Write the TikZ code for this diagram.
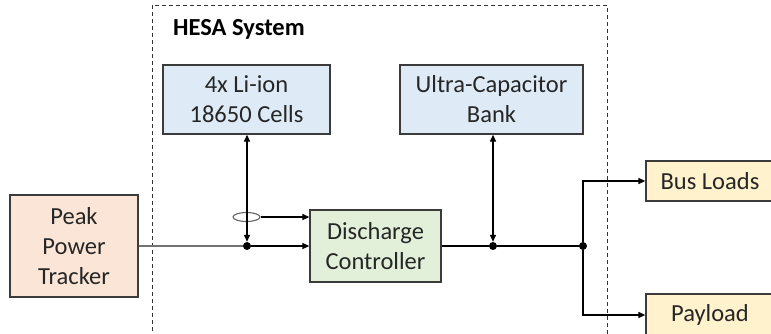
\documentclass[tikz,border=0pt]{standalone}
\usepackage{fontspec}
\setmainfont{Carlito}
\usetikzlibrary{arrows.meta,shapes.geometric}
\definecolor{bluef}{HTML}{DEEBF7}
\definecolor{greenf}{HTML}{E2F0D9}
\definecolor{peachf}{HTML}{FBE5D6}
\definecolor{yellowf}{HTML}{FFF2CC}
\definecolor{edge}{HTML}{3B3B3B}
\tikzset{
  blk/.style={draw=edge, line width=1.3pt, align=center, inner sep=0pt,
    font=\fontsize{24.5}{30}\selectfont, text=black!85},
  dotnode/.style={circle, fill=black, inner sep=0pt, minimum size=8pt},
  conn/.style={line width=1.3pt, black},
  tip/.style={-{Triangle[length=7pt,width=6pt]}},
  dtip/.style={{Triangle[length=7pt,width=6pt]}-{Triangle[length=7pt,width=6pt]}}
}
\begin{document}
\begin{tikzpicture}[x=1pt,y=-1pt]
\useasboundingbox (0,0) rectangle (771,333);
\fill[white] (0,0) rectangle (771,333);
% dashed system boundary
\draw[line width=0.9pt, black!80, dash pattern=on 4pt off 3pt] (152,345) -- (152,5) -- (607,5) -- (607,345);
\node[anchor=west, inner sep=0pt, font=\fontsize{24.5}{30}\selectfont\bfseries] (hesa) at (173,29) {HESA System};
% blocks
\node[blk, fill=bluef, minimum width=167pt, minimum height=69pt] (li) at (246.5,99.5) {4x Li-ion\\18650 Cells};
\node[blk, fill=bluef, minimum width=183pt, minimum height=69pt] (uc) at (491.5,99.5) {Ultra-Capacitor\\Bank};
\node[blk, fill=greenf, minimum width=131pt, minimum height=72pt] (dc) at (375.5,246) {Discharge\\Controller};
\node[blk, fill=peachf, minimum width=128pt, minimum height=102pt] (ppt) at (74,246) {Peak\\Power\\Tracker};
\node[blk, fill=yellowf, minimum width=150pt, minimum height=40pt] (bus) at (721,181) {\hspace*{-22pt}Bus Loads};
\node[blk, fill=yellowf, minimum width=150pt, minimum height=42pt] (pay) at (721,315) {\hspace*{-22pt}Payload};
% junctions
\node[dotnode] (j1) at (247,246) {};
\node[dotnode] (j2) at (493,246) {};
\node[dotnode] (j3) at (583,246) {};
\node[draw=black!60, line width=1.1pt, ellipse, minimum width=27pt, minimum height=9pt, inner sep=0pt] (el) at (246.5,217) {};
% connectors
\draw[conn, dtip] (j1 |- li.south) -- (j1);
\draw[conn, tip] (el.east) -- (el.east -| dc.west);
\draw[line width=1.3pt, black!55] (ppt.east |- j1) -- (j1);
\draw[conn, tip] (j1) -- (j1 -| dc.west);
\draw[conn] (dc.east |- j2) -- (j2) -- (j3);
\draw[conn, dtip] (j2 |- uc.south) -- (j2);
\draw[conn, tip] (j3) -- (j3 |- bus.west) -- (bus.west);
\draw[conn, tip] (j3) -- (j3 |- pay.west) -- (pay.west);
\end{tikzpicture}
\end{document}
